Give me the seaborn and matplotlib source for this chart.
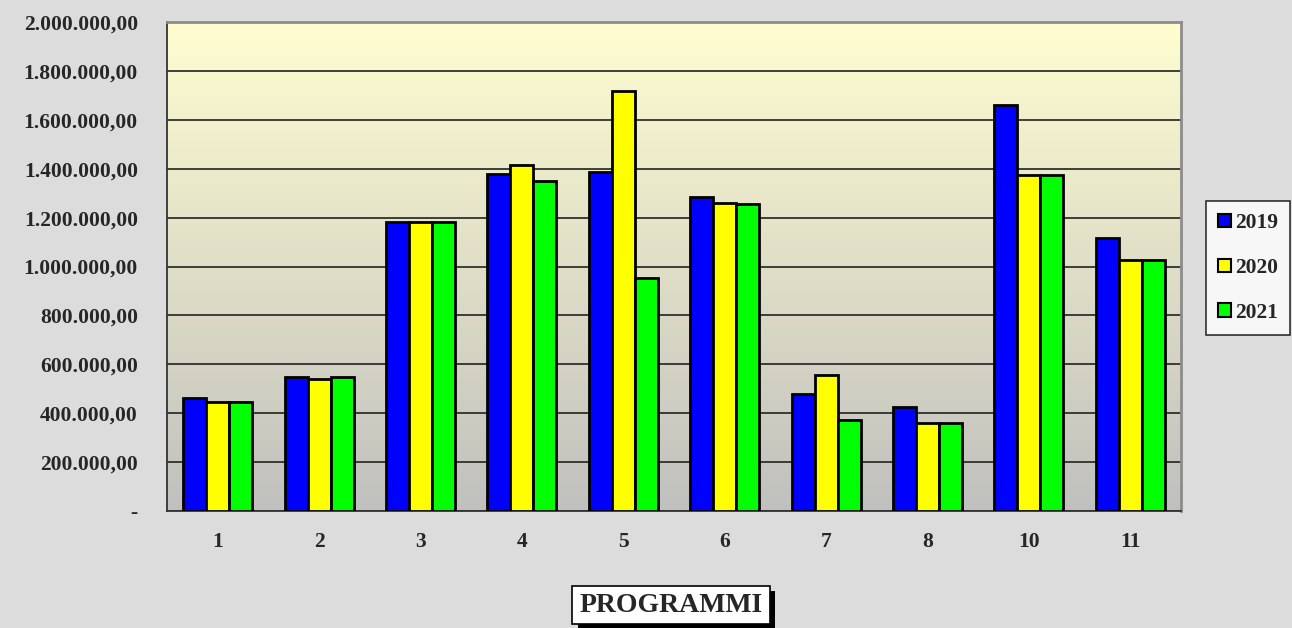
import numpy as np
import pandas as pd
import matplotlib
matplotlib.use("Agg")
import matplotlib.pyplot as plt
import matplotlib.patheffects as pe
from matplotlib.ticker import FuncFormatter, FixedLocator
import seaborn as sns

# Chart data
programmi = ['1', '2', '3', '4', '5', '6', '7', '8', '10', '11']
anni = ['2019', '2020', '2021']
valori_2019 = [463000, 549000, 1182000, 1378000, 1388000, 1284000, 478000, 425000, 1662000, 1115000]
valori_2020 = [445000, 541000, 1182000, 1415000, 1718000, 1261000, 556000, 360000, 1375000, 1025000]
valori_2021 = [445000, 547000, 1182000, 1350000, 952000, 1256000, 372000, 360000, 1375000, 1025000]
colori = ['#0000ff', '#ffff00', '#00ff00']
y_ticks = [0, 200000, 400000, 600000, 800000, 1000000, 1200000, 1400000, 1600000, 1800000, 2000000]


def build_dataframe():
    """Long-form table for seaborn."""
    rows = []
    for anno, serie in zip(anni, [valori_2019, valori_2020, valori_2021]):
        for prog, val in zip(programmi, serie):
            rows.append({'Programma': prog, 'Anno': anno, 'Valore': val})
    return pd.DataFrame(rows)


def fmt_euro(v, pos=None):
    if v == 0:
        return '-'
    s = f"{int(round(v)):,}".replace(',', '.')
    return s + ',00'


def main():
    df = build_dataframe()

    sns.set_style('white')
    plt.rcParams['font.family'] = ['Liberation Serif', 'DejaVu Serif']
    plt.rcParams['font.weight'] = 'bold'

    fig = plt.figure(figsize=(12.92, 6.28), dpi=100, facecolor='#dcdcdc')
    ax = fig.add_axes([167 / 1292, 1 - 511 / 628, (1181 - 167) / 1292, (511 - 22) / 628])

    # plot area gradient: light yellow on top, grey at the bottom
    top = np.array([255, 253, 208]) / 255
    bottom = np.array([192, 192, 190]) / 255
    t = np.linspace(0, 1, 256)[:, None]
    grad = (top * (1 - t) + bottom * t)[:, None, :]
    ax.imshow(grad, extent=[0, 1, 0, 1], transform=ax.transAxes, aspect='auto', zorder=0)

    sns.barplot(data=df, x='Programma', y='Valore', hue='Anno', order=programmi,
                hue_order=anni, palette=colori, width=0.68, gap=0,
                edgecolor='black', linewidth=2, saturation=1, ax=ax, zorder=3)

    ax.set_xlim(-0.5, len(programmi) - 0.5)
    ax.set_ylim(0, 2000000)
    ax.yaxis.set_major_locator(FixedLocator(y_ticks))
    ax.yaxis.set_major_formatter(FuncFormatter(fmt_euro))
    ax.grid(axis='y', color='#222222', linewidth=1.2, zorder=1)
    ax.set_axisbelow(True)

    # tick marks between groups, labels at the group centres
    ax.set_xticks(np.arange(-0.5, len(programmi), 1), minor=True)
    ax.tick_params(axis='x', which='major', length=0, pad=15, labelsize=15.5)
    ax.tick_params(axis='x', which='minor', length=7, width=1.2, color='#333333', direction='out')
    ax.tick_params(axis='y', length=8, width=1.2, color='#333333', direction='out', labelsize=15.5, pad=13)
    for lab in ax.get_xticklabels() + ax.get_yticklabels():
        lab.set_fontweight('bold')

    for side in ['left', 'bottom']:
        ax.spines[side].set_color('#333333')
        ax.spines[side].set_linewidth(1.3)
    for side in ['top', 'right']:
        ax.spines[side].set_color('#8c8c8c')
        ax.spines[side].set_linewidth(2)

    ax.set_xlabel('')
    ax.set_ylabel('')

    # legend on the right
    handles, labels = ax.get_legend_handles_labels()
    if ax.legend_:
        ax.legend_.remove()
    leg = fig.legend(handles, labels, loc='center left', bbox_to_anchor=(1206 / 1292, 1 - 268 / 628),
                     frameon=True, fancybox=False, edgecolor='black', facecolor='white',
                     handlelength=0.6, handleheight=0.6, handletextpad=0.2,
                     labelspacing=1.15, borderpad=0.55, borderaxespad=0,
                     prop={'size': 15.5, 'weight': 'bold'})
    leg.get_frame().set_linewidth(1.2)
    for h in leg.legend_handles:
        h.set_edgecolor('black')
        h.set_linewidth(1.5)

    # boxed axis title with a shadow
    txt = fig.text(671 / 1292, 1 - 605 / 628, 'PROGRAMMI', ha='center', va='center',
                   fontsize=20, fontweight='bold',
                   bbox=dict(boxstyle='square,pad=0.25', facecolor='white', edgecolor='black', linewidth=1.2))
    txt.get_bbox_patch().set_path_effects([
        pe.withSimplePatchShadow(offset=(4, -4), shadow_rgbFace='black', alpha=1)])

    fig.savefig('out.png', dpi=100, facecolor=fig.get_facecolor())


if __name__ == "__main__":
    main()
